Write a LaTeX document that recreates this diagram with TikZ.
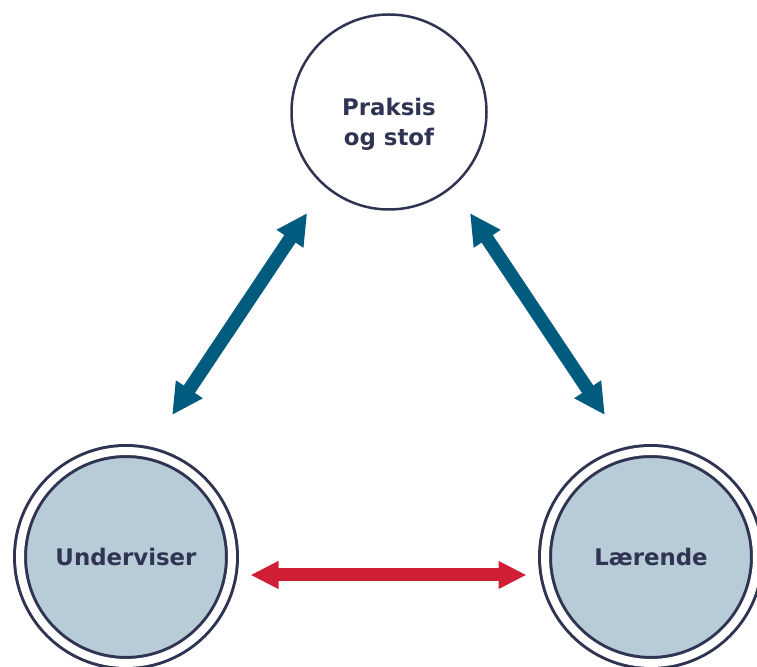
\documentclass[tikz,border=0pt]{standalone}
\usepackage{fontspec}
\setmainfont{DejaVu Sans}
\usetikzlibrary{positioning, calc, arrows.meta}

\begin{document}
\begin{tikzpicture}
    % Farver
    \definecolor{mynavy}{RGB}{46, 52, 82}
    \definecolor{myblue}{RGB}{0, 91, 127}
    \definecolor{myred}{RGB}{208, 30, 52}
    \definecolor{mygrey}{RGB}{184, 204, 216}

    \tikzset{
        circtext/.style={text=mynavy, font=\bfseries\fontsize{13}{17}\selectfont, align=center, inner sep=0pt},
        topcirc/.style={circtext, circle, draw=mynavy, line width=0.05cm, minimum size=3.9cm},
        ringcirc/.style={circtext, circle, draw=mynavy, double=white, double distance=0.16cm, line width=0.06cm, fill=mygrey, minimum size=4.24cm},
        bluearrow/.style={{Triangle[width=0.6cm, length=0.62cm]}-{Triangle[width=0.6cm, length=0.62cm]}, line width=0.27cm, draw=myblue},
        redarrow/.style={{Triangle[width=0.52cm, length=0.56cm]}-{Triangle[width=0.52cm, length=0.56cm]}, line width=0.26cm, draw=myred}
    }

    \useasboundingbox (0,0) rectangle (15.14,13.34);

    % 1. De tre cirkler
    \node[topcirc] (praksis) at (7.78, 11.10) {\rule{0pt}{0.85cm}Praksis\\og stof};
    \node[ringcirc] (underviser) at (2.52, 2.20) {Underviser};
    \node[ringcirc] (laerende) at (13.02, 2.20) {Lærende};

    % 2. Endepunkter for pilene
    \coordinate (pu) at ($(praksis.center)+(231:2.6)$);
    \coordinate (up) at ($(underviser.center)+(72:2.985)$);
    \coordinate (pl) at ($(praksis.center)+(308.7:2.59)$);
    \coordinate (lp) at ($(laerende.center)+(108:2.985)$);
    \coordinate (ul) at ($(underviser.center)+(2.49,-0.36)$);
    \coordinate (lu) at ($(laerende.center)+(-2.49,-0.36)$);

    % 3. Pile mellem cirklerne
    \draw[bluearrow] (pu) -- (up);
    \draw[bluearrow] (pl) -- (lp);
    \draw[redarrow] (ul) -- (lu);

\end{tikzpicture}
\end{document}
